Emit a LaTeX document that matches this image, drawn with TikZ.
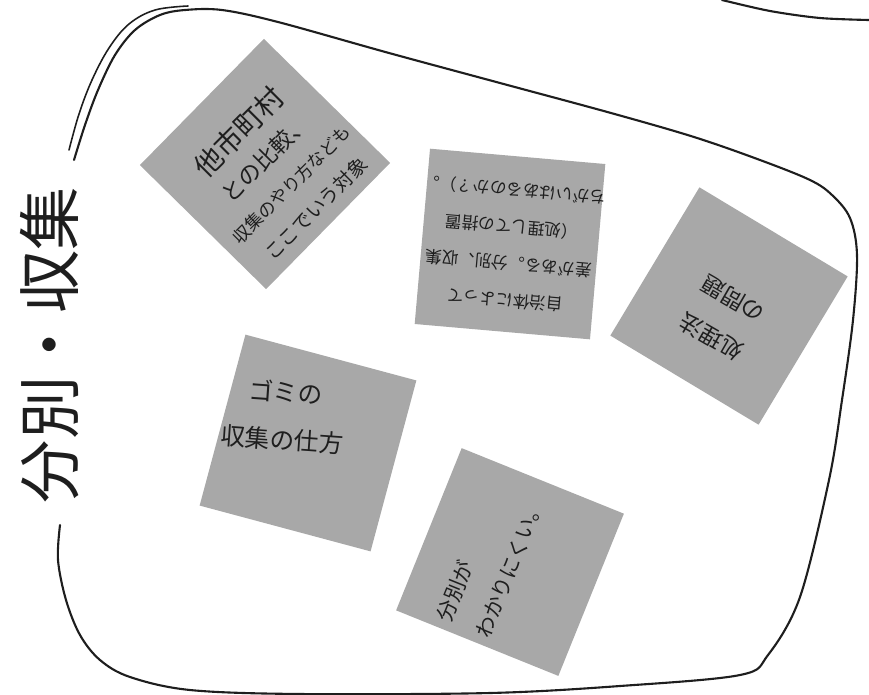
\documentclass[tikz,border=0pt]{standalone}
\usepackage{fontspec}
\newfontfamily\jpfont{Noto Sans CJK JP}
\usetikzlibrary{positioning}
\definecolor{notegray}{RGB}{168,168,168}
\definecolor{ink}{RGB}{30,30,30}

\begin{document}
\begin{tikzpicture}[
  x=0.02cm, y=-0.02cm,
  note/.style={
    rectangle, fill=notegray, inner sep=0pt,
    minimum size=3.52cm
  },
  memo/.style={font=\jpfont, align=center, text=ink, inner sep=0pt},
  pen/.style={line width=1.2pt, color=ink, line cap=round, line join=round}
]
\useasboundingbox (0,0) rectangle (869,694);

% hand drawn outline of the group
\draw[pen] plot[smooth, tension=0.55] coordinates {
  (60,525) (58,560) (66,600) (80,635) (100,660) (130,677) (190,690)
  (300,694) (490,693) (620,686) (740,675) (768,655) (800,597)
  (829,480) (842,400) (853,320) (857,255) (850,218) (832,195)
  (810,180) (760,160) (694,137) (611,113) (500,83) (389,53)
  (278,22) (222,10) (185,10) (160,15) (135,30) (115,55) (98,90)
  (85,125) (74,160)};
\draw[pen, line width=0.9pt] plot[smooth, tension=0.6] coordinates {
  (69,150) (79,114) (92,80) (109,48) (129,24) (155,10) (188,6)};
\draw[pen] plot[smooth] coordinates {(722,0) (770,11) (820,18) (869,20)};

% sticky notes
\node[note, rotate=-44.5, minimum size=3.54cm] (n1) at (265,164) {};
\node[note, rotate=-5]                         (n2) at (510,244) {};
\node[note, rotate=-31, minimum size=3.46cm]   (n3) at (729,306) {};
\node[note, rotate=-15, minimum size=3.54cm]   (n4) at (308,443) {};
\node[note, rotate=-22, minimum size=3.5cm]    (n5) at (510,562) {};

% texts
\node[memo, rotate=90, font=\jpfont\fontsize{36}{36}\selectfont] (title) at (50,345) {分別・収集};

\node[memo, rotate=45, font=\jpfont\fontsize{16}{20}\selectfont] (t1) at (276,169)
  {他市町村\\\fontsize{13}{20}\selectfont との比較、\\
   \fontsize{10}{20}\selectfont 収集のやり方なども\\
   \fontsize{11}{20}\selectfont ここでいう対象};
\node[memo, rotate=175, font=\jpfont\fontsize{9.5}{21}\selectfont] (t2) at (510,245)
  {自治体によって\\差がある。分別、収集\\（処理しての措置\\ちがいはあるのか？）。};
\node[memo, rotate=150, font=\jpfont\fontsize{13}{25}\selectfont] (t3) at (722,318)
  {処理法\\の問題};
\node[memo, rotate=-4, font=\jpfont\fontsize{14}{27}\selectfont] (t4) at (284,416)
  {ゴミの\\収集の仕方};
\node[memo, rotate=68, align=left, font=\jpfont\fontsize{12}{24}\selectfont] (t5) at (490,560)
  {分別が\\わかりにくい。};
\end{tikzpicture}
\end{document}
